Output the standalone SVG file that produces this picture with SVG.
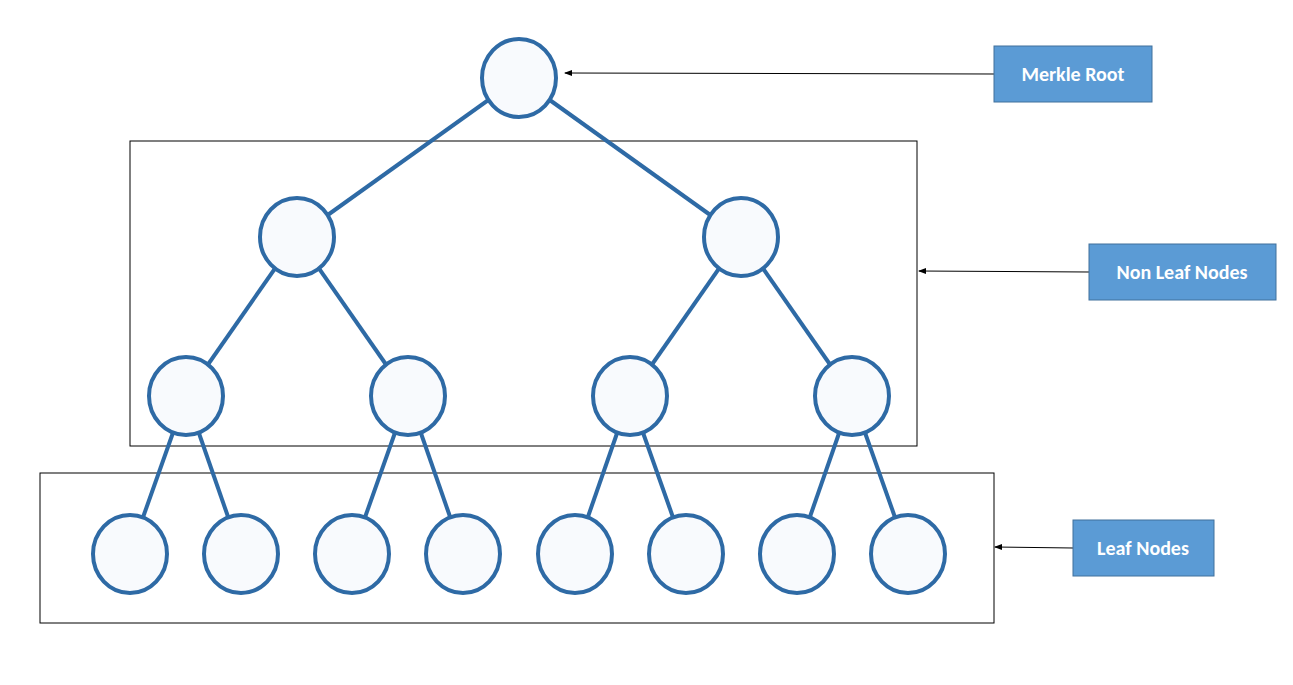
<svg xmlns="http://www.w3.org/2000/svg" width="1293" height="685" viewBox="0 0 1293 685">
<style>
.n{fill:#f8fafd;stroke:#2e6aa5;stroke-width:4}
.e{stroke:#2e6aa5;stroke-width:4}
.box{fill:none;stroke:#000;stroke-width:1}
.lb{fill:#5b9bd5;stroke:#41719c;stroke-width:1}
.t{font-family:Calibri,"Liberation Sans",sans-serif;font-size:20px;font-weight:bold;fill:#fff;text-anchor:middle}
.a{stroke:#000;stroke-width:1;marker-end:url(#ar)}
</style>
<defs><marker id="ar" markerWidth="8" markerHeight="8" refX="7" refY="4" orient="auto" markerUnits="userSpaceOnUse"><path d="M0,1 L8,4 L0,7 z" fill="#000"/></marker></defs>
<rect width="1293" height="685" fill="#fff"/>
<rect class="box" x="130" y="141" width="787" height="305"/>
<rect class="box" x="40" y="473" width="954" height="150"/>
<g id="connectors">
<line class="e" x1="519" y1="78" x2="297" y2="237"/><line class="e" x1="519" y1="78" x2="741" y2="237"/>
<line class="e" x1="297" y1="237" x2="186" y2="396"/><line class="e" x1="297" y1="237" x2="408" y2="396"/>
<line class="e" x1="741" y1="237" x2="630" y2="396"/><line class="e" x1="741" y1="237" x2="852" y2="396"/>
<line class="e" x1="186" y1="396" x2="130" y2="554"/><line class="e" x1="186" y1="396" x2="241" y2="554"/>
<line class="e" x1="408" y1="396" x2="352" y2="554"/><line class="e" x1="408" y1="396" x2="463" y2="554"/>
<line class="e" x1="630" y1="396" x2="575" y2="554"/><line class="e" x1="630" y1="396" x2="686" y2="554"/>
<line class="e" x1="852" y1="396" x2="797" y2="554"/><line class="e" x1="852" y1="396" x2="908" y2="554"/>
<line class="a" x1="994" y1="74" x2="565" y2="73"/>
<line class="a" x1="1089" y1="272" x2="919" y2="271"/>
<line class="a" x1="1073" y1="548" x2="995" y2="547"/>
</g>
<g id="root"><ellipse class="n" cx="519" cy="78" rx="37" ry="39"/></g>
<g id="n1"><ellipse class="n" cx="297" cy="237" rx="37" ry="39"/></g>
<g id="n2"><ellipse class="n" cx="741" cy="237" rx="37" ry="39"/></g>
<g id="n3"><ellipse class="n" cx="186" cy="396" rx="37" ry="39"/></g>
<g id="n4"><ellipse class="n" cx="408" cy="396" rx="37" ry="39"/></g>
<g id="n5"><ellipse class="n" cx="630" cy="396" rx="37" ry="39"/></g>
<g id="n6"><ellipse class="n" cx="852" cy="396" rx="37" ry="39"/></g>
<g id="l1"><ellipse class="n" cx="130" cy="554" rx="37" ry="39"/></g>
<g id="l2"><ellipse class="n" cx="241" cy="554" rx="37" ry="39"/></g>
<g id="l3"><ellipse class="n" cx="352" cy="554" rx="37" ry="39"/></g>
<g id="l4"><ellipse class="n" cx="463" cy="554" rx="37" ry="39"/></g>
<g id="l5"><ellipse class="n" cx="575" cy="554" rx="37" ry="39"/></g>
<g id="l6"><ellipse class="n" cx="686" cy="554" rx="37" ry="39"/></g>
<g id="l7"><ellipse class="n" cx="797" cy="554" rx="37" ry="39"/></g>
<g id="l8"><ellipse class="n" cx="908" cy="554" rx="37" ry="39"/></g>
<g id="lbl-root"><rect class="lb" x="994" y="46" width="158" height="56"/><text class="t" x="1073" y="81">Merkle Root</text></g>
<g id="lbl-nonleaf"><rect class="lb" x="1089" y="244" width="187" height="56"/><text class="t" x="1182" y="279">Non Leaf Nodes</text></g>
<g id="lbl-leaf"><rect class="lb" x="1073" y="520" width="141" height="56"/><text class="t" x="1143" y="555">Leaf Nodes</text></g>
</svg>
